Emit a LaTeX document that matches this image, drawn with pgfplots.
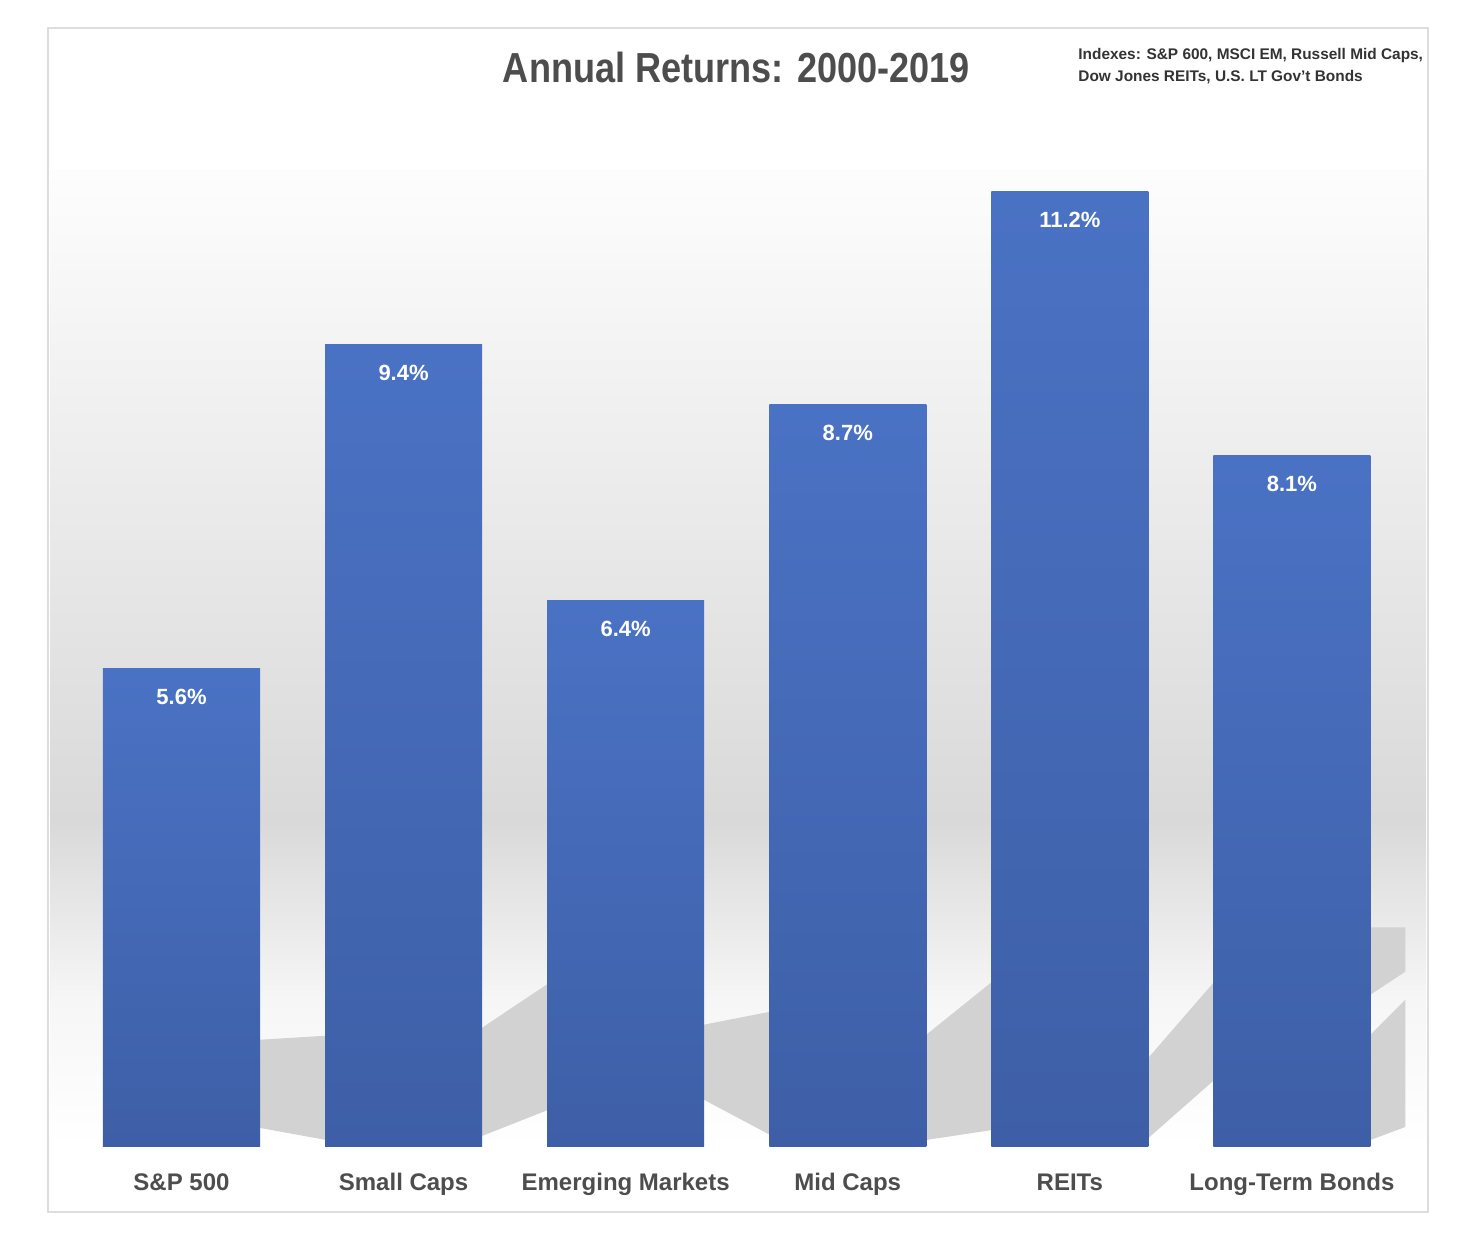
\documentclass[border=0pt]{standalone}
\usepackage{fontspec}
\setmainfont{Liberation Sans}
\usepackage{graphicx}
\usepackage{pgfplots}
\pgfplotsset{compat=1.18}

\definecolor{barTop}{HTML}{4A72C4}
\definecolor{barBot}{HTML}{3E5FA7}
\definecolor{txt}{HTML}{4D4D4D}
\definecolor{idx}{HTML}{333333}
\definecolor{shadowgray}{HTML}{D2D2D2}
\definecolor{framegray}{HTML}{DDDDDD}
\definecolor{bgtop}{HTML}{FDFDFD}
\definecolor{bgmid}{HTML}{D9D9D9}
\definecolor{bglow}{HTML}{F6F6F6}

\pgfplotsset{
  onebar/.style={ybar, bar width=0.707, bar shift=0pt, draw=none,
    top color=barTop, bottom color=barBot},
  shadow/.style={draw=none, fill=shadowgray, mark=none, forget plot},
}

\begin{document}
\begin{tikzpicture}
\path[use as bounding box] (0pt,0pt) rectangle (741pt,624pt);
\fill[white] (0pt,0pt) rectangle (741pt,624pt);
% background gradient
\shade[top color=bgtop, bottom color=bgmid] (25pt,214pt) rectangle (713pt,539pt);
\shade[top color=bgmid, bottom color=bglow] (25pt,124pt) rectangle (713pt,214pt);
\shade[top color=bglow, bottom color=white] (25pt,51pt) rectangle (713pt,124pt);
\draw[framegray, line width=1pt] (24pt,18pt) rectangle (714pt,610pt);

\begin{axis}[
  at={(90.75pt,51pt)}, anchor=origin,
  scale only axis, width=666.25pt, height=488.75pt,
  xmin=-0.5, xmax=5.5, ymin=0, ymax=11.47,
  clip=false,
  axis line style={draw=none},
  ytick=\empty,
  xtick={0,...,5},
  major tick length=0pt,
  xticklabels={S\&P 500, Small Caps, Emerging Markets, Mid Caps, REITs, Long-Term Bonds},
  xticklabel style={anchor=base, yshift=-22pt, text=txt,
    font=\bfseries\fontsize{12}{14}\selectfont},
]
% shadows
\addplot[shadow] coordinates {(0.3536,1.247) (0.6509,1.294) (0.6509,0.071) (0.3536,0.212)} -- cycle;
\addplot[shadow] coordinates {(1.3536,1.388) (1.6509,1.906) (1.6509,0.424) (1.3536,0.118)} -- cycle;
\addplot[shadow] coordinates {(2.3536,1.424) (2.6509,1.576) (2.6509,0.129) (2.3536,0.541)} -- cycle;
\addplot[shadow] coordinates {(3.3536,1.306) (3.6509,1.929) (3.6509,0.188) (3.3536,0.071)} -- cycle;
\addplot[shadow] coordinates {(4.3536,1.035) (4.6509,1.929) (4.6509,0.776) (4.3536,0.094)} -- cycle;
\addplot[shadow] coordinates {(5.3536,2.565) (5.5113,2.565) (5.5113,2.047) (5.3536,1.776)} -- cycle;
\addplot[shadow] coordinates {(5.3536,1.306) (5.5113,1.718) (5.5113,0.224) (5.3536,0.071)} -- cycle;

% bars
\addplot[onebar] coordinates {(0,5.6)};
\addplot[onebar] coordinates {(1,9.4)};
\addplot[onebar] coordinates {(2,6.4)};
\addplot[onebar] coordinates {(3,8.7)};
\addplot[onebar] coordinates {(4,11.2)};
\addplot[onebar] coordinates {(5,8.1)};

% value labels
\addplot[draw=none, mark=none, nodes near coords, point meta=explicit symbolic,
  every node near coord/.append style={anchor=center, yshift=-14pt, text=white,
    font=\bfseries\fontsize{11}{13}\selectfont}]
  coordinates {(0,5.6) [5.6\%] (1,9.4) [9.4\%] (2,6.4) [6.4\%]
               (3,8.7) [8.7\%] (4,11.2) [11.2\%] (5,8.1) [8.1\%]};
\end{axis}

\node[anchor=base, text=txt, inner sep=0pt] at (368.25pt,582.5pt)
  {\scalebox{0.86}[1]{\fontsize{21}{25}\selectfont\bfseries Annual Returns: 2000-2019}};
\node[anchor=north west, inner sep=0pt, align=left, text=idx,
  font=\bfseries\fontsize{7.7}{11}\selectfont] at (539pt,600pt)
  {Indexes: S\&P 600, MSCI EM, Russell Mid Caps,\\Dow Jones REITs, U.S. LT Gov't Bonds};
\end{tikzpicture}
\end{document}
